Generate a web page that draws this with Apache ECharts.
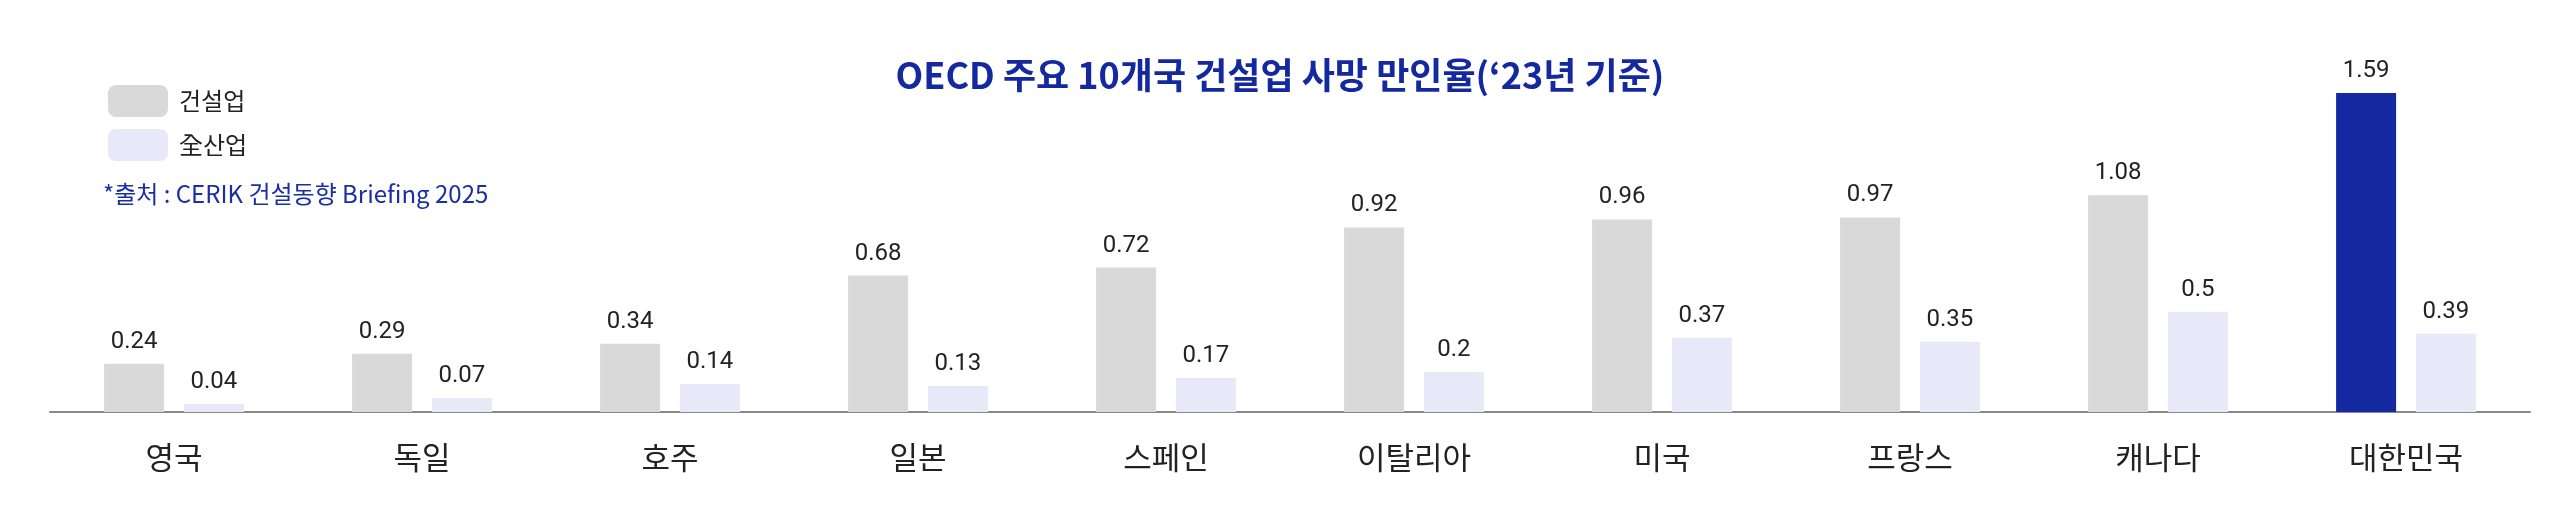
<!DOCTYPE html>
<html>
<head>
<meta charset="utf-8">
<title>OECD 주요 10개국 건설업 사망 만인율</title>
<script src="https://cdn.jsdelivr.net/npm/echarts@6/dist/echarts.min.js"></script>
<style>
html,body{margin:0;padding:0;background:#fff}
#chart{width:2560px;height:520px}
</style>
</head>
<body>
<div id="chart"></div>
<script>
// 데이터
var countries = ['영국','독일','호주','일본','스페인','이탈리아','미국','프랑스','캐나다','대한민국'];
var construction = [0.24, 0.29, 0.34, 0.68, 0.72, 0.92, 0.96, 0.97, 1.08, 1.59];
var allIndustry = [0.04, 0.07, 0.14, 0.13, 0.17, 0.2, 0.37, 0.35, 0.5, 0.39];
var highlightName = '대한민국';

var navy = '#1428A0';
var ink = '#222';

// 대한민국 건설업 막대만 강조색
var constructionData = construction.map(function(v, i){
    if (countries[i] === highlightName) return {value: v, itemStyle: {color: navy}};
    return v;
});

var valueLabel = {
    show: true,
    position: 'top',
    distance: 10,
    color: ink,
    fontFamily: 'Roboto',
    fontSize: 24
};

var option = {
    animation: false,
    backgroundColor: '#fff',
    title: {
        text: 'OECD 주요 10개국 건설업 사망 만인율(‘23년 기준)',
        left: 'center',
        top: 52,
        textStyle: {
            fontFamily: 'Noto Sans CJK KR',
            fontWeight: 'bold',
            fontSize: 36,
            color: navy
        }
    },
    legend: {
        orient: 'vertical',
        left: 103,
        top: 80,
        itemWidth: 60,
        itemHeight: 32,
        itemGap: 12,
        icon: 'roundRect',
        textStyle: {
            fontFamily: 'Noto Sans CJK KR',
            fontSize: 24,
            color: ink,
            padding: [0, 0, 0, 6]
        },
        data: ['건설업', '全산업']
    },
    graphic: [{
        type: 'text',
        left: 103,
        top: 182,
        style: {
            text: '*출처 : CERIK 건설동향 Briefing 2025',
            fontFamily: 'Noto Sans CJK KR',
            fontSize: 24,
            fill: '#1A2EA6'
        }
    }],
    grid: {left: 50, right: 30, top: 91, bottom: 108, containLabel: false},
    xAxis: {
        type: 'category',
        data: countries,
        axisLine: {lineStyle: {color: '#888', width: 2}},
        axisTick: {show: false},
        axisLabel: {
            margin: 30,
            fontFamily: 'Noto Sans CJK KR',
            fontSize: 31,
            color: ink
        }
    },
    yAxis: {
        type: 'value',
        min: 0,
        max: 1.6,
        show: false,
        splitLine: {show: false}
    },
    series: [
        {
            name: '건설업',
            type: 'bar',
            data: constructionData,
            barWidth: 60,
            barGap: '33%',
            itemStyle: {color: '#D9D9D9'},
            label: valueLabel
        },
        {
            name: '全산업',
            type: 'bar',
            data: allIndustry,
            barWidth: 60,
            itemStyle: {color: '#E8E9F8'},
            label: valueLabel
        }
    ]
};

var myChart = echarts.init(document.getElementById('chart'));
myChart.setOption(option);
</script>
</body>
</html>
